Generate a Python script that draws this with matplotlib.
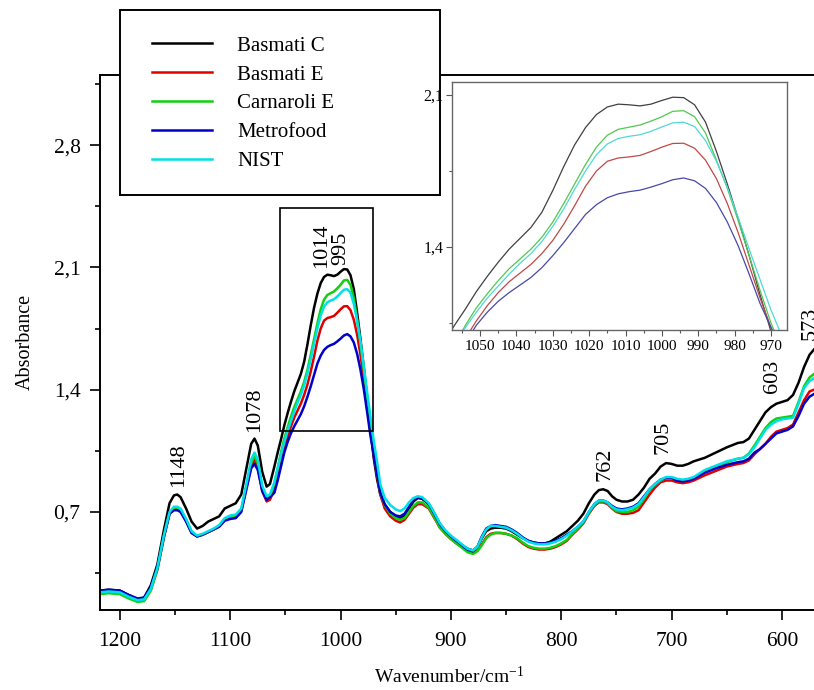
import matplotlib
matplotlib.use("Agg")
import matplotlib.pyplot as plt
from matplotlib.patches import Rectangle
from matplotlib.ticker import FixedLocator, MultipleLocator

plt.rcParams['font.family'] = ['Liberation Serif', 'DejaVu Serif']
plt.rcParams['mathtext.default'] = 'regular'

# DATA
wavenumber = [
    1218, 1210, 1200, 1192, 1184, 1178, 1172, 1166, 1160, 1155,
    1151, 1148, 1145, 1140, 1135, 1130, 1125, 1120, 1115, 1110,
    1105, 1100, 1095, 1090, 1085, 1081, 1078, 1075, 1071, 1067,
    1064, 1060, 1057, 1054, 1051, 1048, 1045, 1042, 1039, 1036,
    1033, 1030, 1027, 1024, 1021, 1018, 1015, 1012, 1009, 1006,
    1003, 1000, 997, 994, 991, 988, 985, 982, 979, 976,
    973, 970, 967, 964, 960, 955, 950, 946, 942, 938,
    934, 930, 926, 920, 915, 910, 905, 900, 895, 890,
    885, 880, 876, 872, 868, 864, 860, 855, 850, 845,
    840, 835, 830, 825, 820, 815, 810, 805, 800, 795,
    790, 785, 780, 775, 770, 766, 762, 758, 754, 750,
    745, 740, 735, 730, 725, 720, 715, 710, 705, 700,
    695, 690, 685, 680, 670, 660, 650, 640, 635, 630,
    625, 620, 615, 610, 605, 600, 595, 590, 585, 580,
    575, 571,
]

basmati_c = [
    0.25, 0.255, 0.25, 0.225, 0.20, 0.21, 0.28, 0.40, 0.60, 0.75,
    0.795, 0.80, 0.785, 0.72, 0.645, 0.605, 0.62, 0.645, 0.66, 0.675,
    0.72, 0.735, 0.75, 0.80, 0.96, 1.09, 1.12, 1.08, 0.93, 0.845,
    0.86, 0.96, 1.04, 1.115, 1.195, 1.265, 1.33, 1.39, 1.44, 1.49,
    1.56, 1.66, 1.77, 1.87, 1.95, 2.01, 2.045, 2.058, 2.055, 2.05,
    2.058, 2.075, 2.09, 2.088, 2.055, 1.975, 1.84, 1.69, 1.53, 1.36,
    1.18, 1.01, 0.89, 0.80, 0.74, 0.70, 0.675, 0.665, 0.68, 0.72,
    0.76, 0.78, 0.775, 0.745, 0.69, 0.63, 0.59, 0.56, 0.535, 0.51,
    0.49, 0.48, 0.50, 0.55, 0.59, 0.605, 0.61, 0.61, 0.605, 0.59,
    0.57, 0.55, 0.535, 0.525, 0.52, 0.52, 0.53, 0.55, 0.57, 0.59,
    0.62, 0.65, 0.69, 0.75, 0.80, 0.825, 0.83, 0.82, 0.79, 0.77,
    0.76, 0.76, 0.77, 0.80, 0.84, 0.89, 0.92, 0.96, 0.98, 0.975,
    0.965, 0.965, 0.975, 0.99, 1.01, 1.04, 1.07, 1.095, 1.10, 1.12,
    1.17, 1.22, 1.27, 1.30, 1.32, 1.33, 1.34, 1.37, 1.44, 1.53,
    1.60, 1.63,
]

basmati_e = [
    0.235, 0.24, 0.235, 0.21, 0.19, 0.195, 0.255, 0.37, 0.56, 0.69,
    0.715, 0.72, 0.71, 0.65, 0.58, 0.56, 0.57, 0.585, 0.60, 0.62,
    0.655, 0.665, 0.67, 0.705, 0.85, 0.96, 1.00, 0.96, 0.82, 0.76,
    0.77, 0.83, 0.90, 0.98, 1.06, 1.13, 1.19, 1.24, 1.28, 1.32,
    1.37, 1.43, 1.505, 1.59, 1.68, 1.75, 1.795, 1.81, 1.815, 1.822,
    1.84, 1.86, 1.877, 1.878, 1.855, 1.80, 1.715, 1.60, 1.465, 1.315,
    1.165, 1.03, 0.91, 0.80, 0.72, 0.675, 0.65, 0.64, 0.655, 0.69,
    0.725, 0.745, 0.745, 0.72, 0.665, 0.61, 0.575, 0.545, 0.52, 0.50,
    0.475, 0.465, 0.48, 0.515, 0.555, 0.575, 0.58, 0.58, 0.575, 0.565,
    0.545, 0.52, 0.50, 0.49, 0.485, 0.485, 0.49, 0.50, 0.515, 0.535,
    0.57, 0.60, 0.635, 0.69, 0.735, 0.755, 0.755, 0.745, 0.72, 0.70,
    0.69, 0.69, 0.695, 0.71, 0.755, 0.80, 0.84, 0.87, 0.88, 0.88,
    0.87, 0.865, 0.87, 0.88, 0.91, 0.935, 0.96, 0.975, 0.98, 0.995,
    1.03, 1.06, 1.09, 1.13, 1.16, 1.17, 1.18, 1.20, 1.27, 1.34,
    1.39, 1.40,
]

carnaroli_e = [
    0.23, 0.235, 0.23, 0.205, 0.185, 0.19, 0.25, 0.37, 0.56, 0.69,
    0.725, 0.725, 0.715, 0.655, 0.585, 0.56, 0.57, 0.585, 0.60, 0.62,
    0.66, 0.67, 0.675, 0.71, 0.86, 0.98, 1.02, 0.98, 0.84, 0.775,
    0.785, 0.86, 0.95, 1.04, 1.12, 1.185, 1.245, 1.30, 1.345, 1.39,
    1.445, 1.515, 1.60, 1.69, 1.78, 1.86, 1.915, 1.942, 1.952, 1.962,
    1.98, 2.00, 2.025, 2.028, 2.00, 1.925, 1.80, 1.67, 1.52, 1.36,
    1.20, 1.05, 0.93, 0.81, 0.74, 0.69, 0.665, 0.655, 0.665, 0.70,
    0.735, 0.755, 0.755, 0.725, 0.67, 0.61, 0.575, 0.545, 0.52, 0.495,
    0.47, 0.46, 0.475, 0.51, 0.55, 0.57, 0.58, 0.58, 0.575, 0.565,
    0.55, 0.525, 0.505, 0.495, 0.49, 0.49, 0.495, 0.505, 0.52, 0.54,
    0.575, 0.605, 0.64, 0.695, 0.74, 0.76, 0.76, 0.75, 0.725, 0.705,
    0.70, 0.70, 0.71, 0.73, 0.775, 0.825, 0.855, 0.88, 0.895, 0.895,
    0.885, 0.88, 0.885, 0.895, 0.935, 0.96, 0.985, 1.005, 1.01, 1.035,
    1.08, 1.13, 1.18, 1.215, 1.235, 1.24, 1.245, 1.25, 1.33, 1.42,
    1.47, 1.49,
]

metrofood = [
    0.25, 0.255, 0.25, 0.225, 0.205, 0.21, 0.27, 0.38, 0.56, 0.69,
    0.71, 0.71, 0.70, 0.645, 0.58, 0.56, 0.57, 0.585, 0.60, 0.615,
    0.65, 0.66, 0.665, 0.70, 0.84, 0.95, 0.975, 0.94, 0.82, 0.77,
    0.785, 0.81, 0.88, 0.96, 1.04, 1.10, 1.15, 1.19, 1.225, 1.26,
    1.305, 1.36, 1.42, 1.485, 1.55, 1.595, 1.627, 1.645, 1.655, 1.662,
    1.676, 1.692, 1.71, 1.718, 1.705, 1.67, 1.605, 1.515, 1.405, 1.275,
    1.14, 1.03, 0.92, 0.81, 0.745, 0.70, 0.68, 0.675, 0.69, 0.73,
    0.77, 0.785, 0.78, 0.745, 0.69, 0.63, 0.59, 0.56, 0.535, 0.51,
    0.485, 0.475, 0.50, 0.56, 0.605, 0.62, 0.625, 0.62, 0.615, 0.60,
    0.58, 0.555, 0.535, 0.525, 0.52, 0.52, 0.525, 0.535, 0.55, 0.57,
    0.59, 0.615, 0.645, 0.70, 0.745, 0.765, 0.765, 0.755, 0.735, 0.72,
    0.715, 0.72, 0.73, 0.75, 0.79, 0.83, 0.86, 0.885, 0.895, 0.895,
    0.88, 0.875, 0.88, 0.89, 0.925, 0.95, 0.97, 0.985, 0.99, 1.005,
    1.04, 1.06, 1.09, 1.12, 1.15, 1.16, 1.17, 1.19, 1.25, 1.32,
    1.36, 1.375,
]

nist = [
    0.24, 0.245, 0.24, 0.215, 0.195, 0.20, 0.26, 0.38, 0.57, 0.70,
    0.73, 0.73, 0.72, 0.66, 0.59, 0.565, 0.575, 0.59, 0.605, 0.625,
    0.665, 0.68, 0.685, 0.72, 0.87, 1.00, 1.04, 1.00, 0.85, 0.79,
    0.80, 0.87, 0.95, 1.03, 1.10, 1.165, 1.22, 1.275, 1.325, 1.37,
    1.425, 1.495, 1.575, 1.665, 1.75, 1.825, 1.875, 1.90, 1.91, 1.917,
    1.933, 1.953, 1.972, 1.975, 1.955, 1.89, 1.795, 1.675, 1.535, 1.39,
    1.25, 1.11, 0.99, 0.86, 0.78, 0.74, 0.715, 0.705, 0.72, 0.755,
    0.78, 0.79, 0.785, 0.75, 0.695, 0.635, 0.595, 0.565, 0.54, 0.515,
    0.49, 0.48, 0.50, 0.555, 0.60, 0.62, 0.62, 0.615, 0.61, 0.595,
    0.575, 0.55, 0.53, 0.52, 0.515, 0.515, 0.52, 0.53, 0.545, 0.565,
    0.59, 0.615, 0.645, 0.70, 0.745, 0.765, 0.765, 0.755, 0.73, 0.715,
    0.71, 0.715, 0.725, 0.745, 0.785, 0.83, 0.86, 0.885, 0.90, 0.90,
    0.89, 0.885, 0.89, 0.90, 0.94, 0.965, 0.99, 1.005, 1.01, 1.03,
    1.07, 1.12, 1.17, 1.20, 1.22, 1.23, 1.235, 1.24, 1.32, 1.41,
    1.45, 1.465,
]

series_names = ['Basmati C', 'Basmati E', 'Carnaroli E', 'Metrofood', 'NIST']
series_values = [basmati_c, basmati_e, carnaroli_e, metrofood, nist]
main_colors = ['#000000', '#e00000', '#10d010', '#0000c8', '#00e0e8']
inset_colors = ['#404040', '#c04848', '#50c850', '#4848a8', '#50d8d8']

y_ticks = [0.7, 1.4, 2.1, 2.8]
y_tick_labels = ['0,7', '1,4', '2,1', '2,8']
x_ticks = [1200, 1100, 1000, 900, 800, 700, 600]

inset_x_ticks = [1050, 1040, 1030, 1020, 1010, 1000, 990, 980, 970]
inset_y_ticks = [1.4, 2.1]
inset_y_tick_labels = ['1,4', '2,1']

# peak labels: (text, wavenumber, absorbance of label centre)
peak_labels = [
    ('1148', 1147, 0.97), ('1078', 1077.5, 1.285), ('1014', 1017, 2.225),
    ('995', 999.5, 2.21), ('762', 760, 0.97), ('705', 707.5, 1.125),
    ('603', 609, 1.475), ('573', 574.5, 1.78),
]

W, H = 814, 690
fig = plt.figure(figsize=(W / 100, H / 100), dpi=100)

# main axes
ax = fig.add_axes([100 / W, 1 - 610 / H, 1 - 100 / W, (610 - 75) / H])
for name, vals, col in zip(series_names, series_values, main_colors):
    ax.plot(wavenumber, vals, color=col, lw=1.8, label=name)

ax.set_xlim(1218, 571)
ax.set_ylim(0.139, 3.201)
ax.set_xticks(x_ticks)
ax.set_xticklabels([str(t) for t in x_ticks])
ax.xaxis.set_minor_locator(FixedLocator([1150, 1050, 950, 850, 750, 650]))
ax.set_yticks(y_ticks)
ax.set_yticklabels(y_tick_labels)
ax.yaxis.set_minor_locator(FixedLocator([0.35, 1.05, 1.75, 2.45, 3.15]))
ax.tick_params(which='major', direction='out', length=7, width=1.2, labelsize=15.5)
ax.tick_params(axis='x', which='major', pad=9)
ax.tick_params(axis='y', which='major', pad=7)
ax.tick_params(which='minor', direction='out', length=3.5, width=1.2)
ax.spines['right'].set_visible(False)
for s in ['left', 'bottom', 'top']:
    ax.spines[s].set_linewidth(1.4)

# zoom rectangle
ax.add_patch(Rectangle((1055, 1.161), 970.9 - 1055, 2.439 - 1.161,
                       fill=False, ec='black', lw=1.2, zorder=5))

for txt, wn, yv in peak_labels:
    ax.text(wn, yv, txt, rotation=90, ha='center', va='center', fontsize=16,
            clip_on=False)

fig.text(25 / W, 1 - 342 / H, 'Absorbance', rotation=90, ha='center',
         va='center', fontsize=14.5)
fig.text(449 / W, 1 - 677 / H, 'Wavenumber/cm$^{-1}$', ha='center',
         va='center', fontsize=14)

# inset
ax_in = fig.add_axes([452 / W, 1 - 330 / H, (787 - 452) / W, (330 - 82) / H])
ax_in.set_zorder(5)
for vals, col in zip(series_values, inset_colors):
    ax_in.plot(wavenumber, vals, color=col, lw=0.9)
ax_in.set_xlim(1057.7, 965.6)
ax_in.set_ylim(1.018, 2.16)
ax_in.set_xticks(inset_x_ticks)
ax_in.set_xticklabels([str(t) for t in inset_x_ticks])
ax_in.xaxis.set_minor_locator(MultipleLocator(5))
ax_in.set_yticks(inset_y_ticks)
ax_in.set_yticklabels(inset_y_tick_labels)
ax_in.yaxis.set_minor_locator(FixedLocator([1.05, 1.75]))
ax_in.tick_params(which='major', direction='out', length=4, width=0.8,
                  colors='#555555', labelcolor='black')
ax_in.tick_params(axis='x', labelsize=11, pad=3)
ax_in.tick_params(axis='y', labelsize=11.5, pad=2)
ax_in.tick_params(which='minor', direction='out', length=2.5, width=0.8,
                  colors='#555555')
for s in ax_in.spines.values():
    s.set_color('#666666')
    s.set_linewidth(1.0)

# legend box (drawn over the top spine)
fig.add_artist(Rectangle((120 / W, 1 - 195 / H), 320 / W, 185 / H,
                         transform=fig.transFigure, fc='white', ec='black',
                         lw=1.4, zorder=3))
handles, labels = ax.get_legend_handles_labels()
leg = fig.legend(handles, labels, loc='upper left',
                 bbox_to_anchor=(152 / W, 1 - 36 / H), frameon=False,
                 fontsize=15, handlelength=2.9, handletextpad=1.2,
                 labelspacing=0.45, borderpad=0, borderaxespad=0)
for line in leg.get_lines():
    line.set_linewidth(1.8)
leg.set_zorder(4)

plt.savefig('out.png', dpi=100)
